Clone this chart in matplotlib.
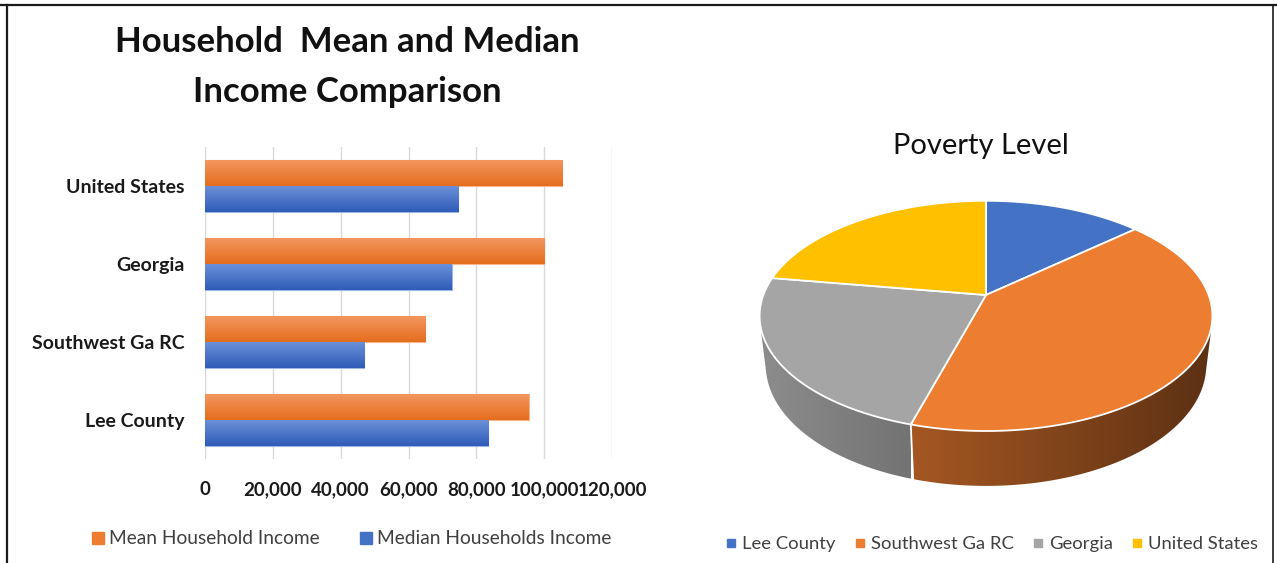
import numpy as np
import matplotlib
matplotlib.use('Agg')
import matplotlib.pyplot as plt
from matplotlib.lines import Line2D
from matplotlib.patches import Polygon
from matplotlib.colors import LinearSegmentedColormap, to_rgb

plt.rcParams['font.family'] = ['Lato', 'DejaVu Sans']

# Data
categories = ['Lee County', 'Southwest Ga RC', 'Georgia', 'United States']
mean_income = [95500, 65000, 100000, 105300]
median_income = [83500, 47000, 72800, 74600]
poverty_share = [13.5, 41.0, 23.0, 22.5]
pie_colors = ['#4472c4', '#ed7d31', '#a5a5a5', '#ffc000']

W, H = 1277, 563
fig = plt.figure(figsize=(W / 100, H / 100), dpi=100)


def px_rect(x0, y0, x1, y1):
    # image pixel box -> figure fraction rect
    return [x0 / W, 1 - y1 / H, (x1 - x0) / W, (y1 - y0) / H]


# ---------- bar chart ----------
ax = fig.add_axes(px_rect(205, 147, 612, 459))
y = np.arange(len(categories))
bh = 1 / 3
mean_bars = ax.barh(y + bh / 2, mean_income, height=bh, color='#ed7d31',
                    edgecolor='#f6b58a', lw=0.8, zorder=2)
median_bars = ax.barh(y - bh / 2, median_income, height=bh, color='#4472c4',
                      edgecolor='#9db5e3', lw=0.8, zorder=2)


def shade(bars, top, bottom):
    grad = np.linspace(0, 1, 64)[:, None]
    cmap = LinearSegmentedColormap.from_list('g', [top, bottom])
    for b in bars:
        x0, y0 = b.get_x(), b.get_y()
        im = ax.imshow(grad, cmap=cmap, aspect='auto', zorder=2.5,
                       extent=(x0, x0 + b.get_width(), y0, y0 + b.get_height()))
        im.set_clip_path(b)


shade(mean_bars, '#f3965e', '#e56d1e')
shade(median_bars, '#6b90d9', '#2f5cb8')

ax.set_xlim(0, 120000)
ax.set_ylim(-0.5, 3.5)
ax.set_xticks(np.arange(0, 120001, 20000))
ax.set_xticklabels([f'{v:,}' for v in range(0, 120001, 20000)],
                   fontsize=13.5, fontweight='bold', color='#1a1a1a')
ax.set_yticks(y)
ax.set_yticklabels(categories, fontsize=14, fontweight='bold', color='#1a1a1a')
ax.tick_params(length=0)
ax.tick_params(axis='x', pad=16)
ax.tick_params(axis='y', pad=15)
ax.grid(axis='x', color='#d9d9d9', lw=1)
ax.set_axisbelow(True)
for s in ax.spines.values():
    s.set_visible(False)

fig.text(347 / W, 1 - 42 / H, 'Household  Mean and Median', ha='center', va='center',
         fontsize=25, fontweight='bold', color='#111111')
fig.text(347 / W, 1 - 92 / H, 'Income Comparison', ha='center', va='center',
         fontsize=25, fontweight='bold', color='#111111')

bar_handles = [Line2D([], [], marker='s', ls='', color='#ed7d31', markersize=9),
               Line2D([], [], marker='s', ls='', color='#4472c4', markersize=9)]
fig.legend(bar_handles, ['Mean Household Income', 'Median Households Income'],
           loc='center', bbox_to_anchor=(351 / W, 1 - 539 / H), ncol=2, frameon=False,
           fontsize=13.8, handletextpad=0.2, columnspacing=2.0, handlelength=0.8,
           labelcolor='#404040')

# ---------- 3D pie ----------
pax = fig.add_axes(px_rect(700, 120, 1277, 510))
pax.axis('off')

F, ELEV, DIST, THICK = 1062.0, np.radians(30), 4.77, 0.26


def project(th, z):
    X, Y = np.sin(th), np.cos(th)
    yc = Y * np.sin(ELEV) + z * np.cos(ELEV)
    zc = DIST + Y * np.cos(ELEV) - z * np.sin(ELEV)
    return F * X / zc, F * yc / zc


shares = np.array(poverty_share, dtype=float)
bounds = np.concatenate([[0], np.cumsum(shares) / shares.sum() * 2 * np.pi])

# visible part of the side wall lies between the two silhouette angles
tang = np.arccos(1 / (DIST * np.cos(ELEV)))
vis_lo, vis_hi = np.pi - tang, np.pi + tang

for i, c in enumerate(pie_colors):
    a0, a1 = max(bounds[i], vis_lo), min(bounds[i + 1], vis_hi)
    if a1 <= a0:
        continue
    th = np.linspace(a0, a1, 150)
    ut, vt = project(th, 0)
    ub, vb = project(th[::-1], -THICK)
    wall = Polygon(np.column_stack([np.r_[ut, ub], np.r_[vt, vb]]), closed=True,
                   facecolor='none', edgecolor='none', zorder=1)
    pax.add_patch(wall)
    base = np.array(to_rgb(c))
    xs = np.linspace(ut.min(), ut.max(), 200)
    fac = 0.62 - 0.23 * xs / 225
    strip = np.clip(base[None, :] * fac[:, None], 0, 1)[None, :, :]
    im = pax.imshow(strip, aspect='auto', interpolation='bilinear', zorder=1,
                    extent=(xs[0], xs[-1], min(vb.min(), vt.min()), max(vt.max(), vb.max())))
    im.set_clip_path(wall)

for b in bounds[1:-1]:
    if vis_lo < b < vis_hi:
        u0, v0 = project(b, 0)
        u1, v1 = project(b, -THICK)
        pax.plot([u0, u1], [v0, v1], color='white', lw=1.3, zorder=2)

for i, c in enumerate(pie_colors):
    th = np.linspace(bounds[i], bounds[i + 1], 200)
    u, v = project(th, 0)
    pts = np.vstack([[0, 0], np.column_stack([u, v])])
    pax.add_patch(Polygon(pts, closed=True, facecolor=c, edgecolor='white',
                          lw=1.3, joinstyle='round', zorder=3))

pax.set_xlim(700 - 986, 1277 - 986)
pax.set_ylim(295 - 510, 295 - 120)

fig.text(981 / W, 1 - 146 / H, 'Poverty Level', ha='center', va='center',
         fontsize=21, color='#111111')

pie_handles = [Line2D([], [], marker='s', ls='', color=c, markersize=6) for c in pie_colors]
fig.legend(pie_handles, categories, loc='center', bbox_to_anchor=(991 / W, 1 - 544 / H),
           ncol=4, frameon=False, fontsize=13.3, handletextpad=0.2, columnspacing=0.9,
           handlelength=0.8, labelcolor='#404040')

# frame around the picture
fig.add_artist(Line2D([0, 1], [1 - 5 / H, 1 - 5 / H], color='#1a1a1a', lw=1.6))
fig.add_artist(Line2D([6.5 / W, 6.5 / W], [0, 1 - 5 / H], color='#1a1a1a', lw=1.6))
fig.add_artist(Line2D([1273 / W, 1273 / W], [0, 1 - 5 / H], color='#1a1a1a', lw=1.2))

fig.savefig('out.png', dpi=100)
